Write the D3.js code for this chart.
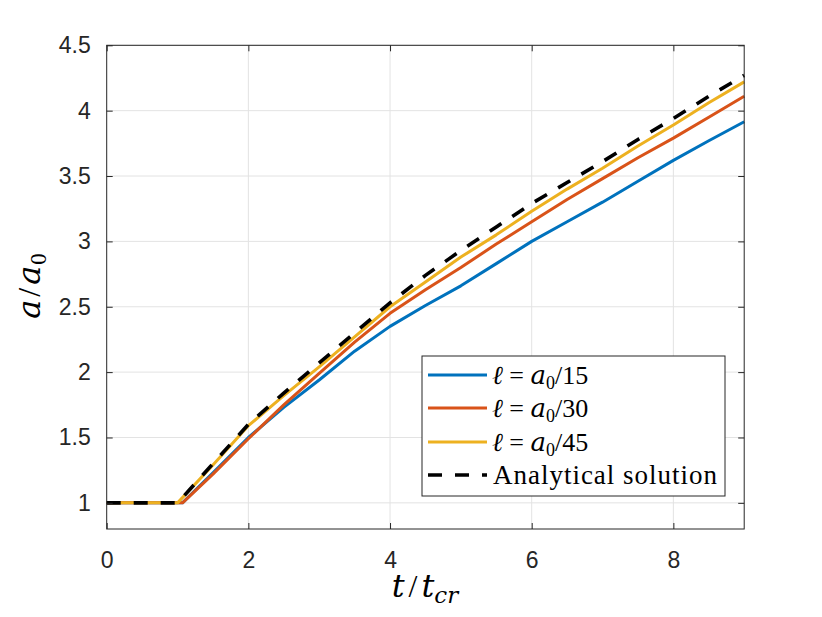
<!DOCTYPE html>
<html lang="en">
<head>
  <meta charset="UTF-8">
  <title>a/a0 vs t/tcr</title>
  <script src="https://d3js.org/d3.v7.min.js"></script>
  <style>
    body { margin: 0; background: #fff; }
    .tick text { font-family: "Liberation Sans", Arial, sans-serif; font-size: 23px; fill: #262626; }
    .math { font-family: "Liberation Serif", "Times New Roman", serif; fill: #000; }
    .it { font-family: "DejaVu Serif", serif; font-style: italic; }
  </style>
</head>
<body>
<svg width="822" height="617"></svg>
<script>
  // values
  const tValues   = [0, 1, 1.07, 1.5, 2, 2.5, 3, 3.5, 4, 4.5, 5, 5.5, 6, 6.5, 7, 7.5, 8, 8.5, 9];
  const ell15     = [1, 1, 1.00, 1.23, 1.50, 1.73, 1.94, 2.16, 2.35, 2.51, 2.66, 2.83, 3.00, 3.15, 3.30, 3.46, 3.62, 3.77, 3.915];
  const ell30     = [1, 1, 1.00, 1.22, 1.49, 1.75, 1.99, 2.23, 2.45, 2.63, 2.80, 2.98, 3.15, 3.32, 3.48, 3.64, 3.79, 3.95, 4.11];
  const ell45     = [1, 1, 1.04, 1.29, 1.59, 1.82, 2.04, 2.27, 2.50, 2.69, 2.88, 3.05, 3.23, 3.40, 3.56, 3.73, 3.89, 4.06, 4.22];
  const analytic  = [1, 1, 1.04, 1.30, 1.60, 1.84, 2.07, 2.30, 2.53, 2.74, 2.93, 3.11, 3.29, 3.45, 3.61, 3.78, 3.94, 4.11, 4.27];
  const xTicks = [0, 2, 4, 6, 8];
  const yTicks = [1, 1.5, 2, 2.5, 3, 3.5, 4, 4.5];
  const legendNums = ["15", "30", "45"];

  const svg = d3.select("svg");
  const margin = { top: 45.3, right: 77.8, bottom: 88, left: 106.7 };
  const width = 822 - margin.left - margin.right;
  const height = 617 - margin.top - margin.bottom;

  const g = svg.append("g")
    .attr("transform", `translate(${margin.left},${margin.top})`);

  const x = d3.scaleLinear().domain([0, 9]).range([0, width]);
  const y = d3.scaleLinear().domain([0.8, 4.5]).range([height, 0]);

  // grid
  g.append("g").selectAll("line").data(xTicks.slice(1)).join("line")
    .attr("x1", d => x(d)).attr("x2", d => x(d))
    .attr("y1", 0).attr("y2", height)
    .attr("stroke", "#e3e3e3").attr("stroke-width", 1);
  g.append("g").selectAll("line").data(yTicks).join("line")
    .attr("x1", 0).attr("x2", width)
    .attr("y1", d => y(d)).attr("y2", d => y(d))
    .attr("stroke", "#e3e3e3").attr("stroke-width", 1);

  // series
  const series = [
    { v: ell15, color: "#0072BD" },
    { v: ell30, color: "#D95319" },
    { v: ell45, color: "#EDB120" }
  ];
  const line = d3.line().x(d => x(d[0])).y(d => y(d[1]));

  series.forEach(s => {
    g.append("path")
      .datum(tValues.map((t, i) => [t, s.v[i]]))
      .attr("d", line)
      .attr("fill", "none")
      .attr("stroke", s.color)
      .attr("stroke-width", 3)
      .attr("stroke-linejoin", "round");
  });

  g.append("path")
    .datum(tValues.map((t, i) => [t, analytic[i]]))
    .attr("d", line)
    .attr("fill", "none")
    .attr("stroke", "#000")
    .attr("stroke-width", 3.6)
    .attr("stroke-dasharray", "14,13");

  // axes
  const xAxis = d3.axisBottom(x).tickValues(xTicks).tickSize(-6).tickPadding(22).tickFormat(d3.format("d"));
  const yAxis = d3.axisLeft(y).tickValues(yTicks).tickSize(-6).tickPadding(16).tickFormat(d => d);
  g.append("g").attr("class", "xaxis").attr("transform", `translate(0,${height})`).call(xAxis)
    .call(a => a.select(".domain").remove());
  g.append("g").attr("class", "yaxis").call(yAxis)
    .call(a => a.select(".domain").remove());
  g.append("g").call(d3.axisTop(x).tickValues(xTicks).tickSize(-6).tickFormat(""))
    .call(a => a.select(".domain").remove());
  g.append("g").attr("transform", `translate(${width},0)`)
    .call(d3.axisRight(y).tickValues(yTicks).tickSize(-6).tickFormat(""))
    .call(a => a.select(".domain").remove());
  g.selectAll(".tick line").attr("stroke", "#262626");
  g.selectAll(".xaxis .tick text").attr("dy", "0.72em");

  g.append("rect")
    .attr("width", width).attr("height", height)
    .attr("fill", "none").attr("stroke", "#262626").attr("stroke-width", 1);

  // axis labels
  const yl = svg.append("text").attr("class", "math")
    .attr("transform", "translate(40,286) rotate(-90)")
    .attr("text-anchor", "middle")
    .attr("font-size", 32);
  yl.append("tspan").attr("class", "it").text("a");
  yl.append("tspan").attr("dx", 3).text("/");
  yl.append("tspan").attr("dx", 3).attr("class", "it").text("a");
  yl.append("tspan").attr("dx", 1).attr("font-size", 23).attr("dy", 6).text("0");

  const xl = svg.append("text").attr("class", "math")
    .attr("x", 425).attr("y", 597)
    .attr("text-anchor", "middle")
    .attr("font-size", 32);
  xl.append("tspan").attr("class", "it").text("t");
  xl.append("tspan").attr("dx", 4).text("/");
  xl.append("tspan").attr("dx", 4).attr("class", "it").text("t");
  xl.append("tspan").attr("class", "it").attr("font-size", 23).attr("dy", 6).text("cr");

  // legend
  const lg = svg.append("g").attr("transform", "translate(422,356)");
  lg.append("rect").attr("width", 303).attr("height", 140)
    .attr("fill", "#fff").attr("stroke", "#262626").attr("stroke-width", 1);

  const rowY = [19, 52, 86, 119];
  const legendColors = series.map(s => s.color).concat(["#000"]);
  legendColors.forEach((c, i) => {
    lg.append("line")
      .attr("x1", 6).attr("x2", 65)
      .attr("y1", rowY[i]).attr("y2", rowY[i])
      .attr("stroke", c)
      .attr("stroke-width", i === 3 ? 3.6 : 3)
      .attr("stroke-dasharray", i === 3 ? "14,13" : null);
  });

  legendNums.forEach((n, i) => {
    const t = lg.append("text").attr("class", "math")
      .attr("x", 70).attr("y", rowY[i] + 9)
      .attr("font-size", 26);
    t.append("tspan").attr("class", "it").text("\u2113");
    t.append("tspan").text(" = ");
    t.append("tspan").attr("class", "it").text("a");
    t.append("tspan").attr("font-size", 18).attr("dy", 5).text("0");
    t.append("tspan").attr("dy", -5).text("/" + n);
  });
  lg.append("text").attr("class", "math")
    .attr("x", 71).attr("y", rowY[3] + 9)
    .attr("font-size", 27)
    .attr("textLength", 224)
    .text("Analytical solution");
</script>
</body>
</html>
